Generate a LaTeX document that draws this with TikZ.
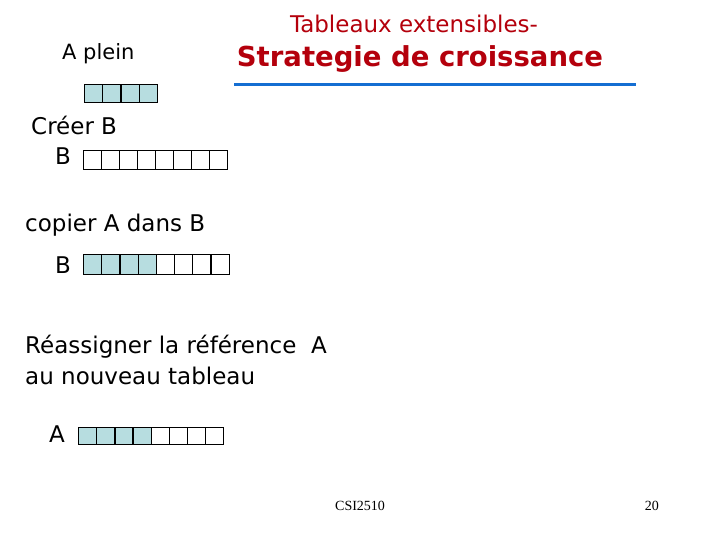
\documentclass[tikz,border=0pt]{standalone}
\usepackage{fontspec}
\newfontfamily\comic{DejaVu Sans}
\newfontfamily\comicbold{DejaVu Sans Bold}
\setmainfont{Liberation Serif}
\definecolor{titlered}{RGB}{180,0,12}
\definecolor{rule}{RGB}{20,110,210}
\definecolor{cellfill}{RGB}{183,221,224}
\tikzset{
  txt/.style={anchor=base west, inner sep=0pt, font=\comic\fontsize{23}{27}\selectfont},
  cell/.style={draw=black, line width=1.1pt, minimum width=18pt, minimum height=18pt, inner sep=0pt, anchor=north west},
  full/.style={cell, fill=cellfill},
  empty/.style={cell, fill=white},
}
\begin{document}
\begin{tikzpicture}[x=1pt,y=-1pt]
\useasboundingbox[fill=white] (0,0) rectangle (720,540);
% title
\node[anchor=base, inner sep=0pt, text=titlered, font=\comic\fontsize{23}{27}\selectfont] (t1) at (414,33) {Tableaux extensibles-};
\node[anchor=base, inner sep=0pt, text=titlered, font=\comicbold\fontsize{27.5}{32}\selectfont] (t2) at (420,67) {Strategie de croissance};
\draw[rule, line width=3pt] (234,84.3) -- (636,84.3);
% A plein
\node[txt, font=\comic\fontsize{21}{25}\selectfont] (aplein) at (62,60) {A plein};
\foreach \i in {0,...,3} \node[full, minimum width=18.2pt] (a\i) at (84+18.2*\i,84) {};
% Creer B
\node[txt] (creer) at (31,135) {Créer B};
\node[txt] (lb1) at (55,165) {B};
\foreach \i in {0,...,7} \node[empty, minimum height=19pt] (b\i) at (83+18*\i,150) {};
% copier
\node[txt] (copier) at (25,231) {copier A dans B};
\node[txt] (lb2) at (55,273) {B};
\foreach \i in {0,...,3} \node[full, minimum width=18.2pt, minimum height=20pt] (c\i) at (83+18.2*\i,254.3) {};
\foreach \i in {4,...,7} \node[empty, minimum width=18.2pt, minimum height=20pt] (c\i) at (83+18.2*\i,254.3) {};
% reassigner
\node[txt] (reass) at (25,353) {Réassigner la référence\ \ A};
\node[txt] (nouv) at (25,384) {au nouveau tableau};
\node[txt] (la) at (49,442) {A};
\foreach \i in {0,...,3} \node[full, minimum width=18.05pt, minimum height=17.6pt] (d\i) at (78.3+18.05*\i,426.7) {};
\foreach \i in {4,...,7} \node[empty, minimum width=18.05pt, minimum height=17.6pt] (d\i) at (78.3+18.05*\i,426.7) {};
% footer
\node[anchor=base west, inner sep=0pt, font=\fontsize{14}{16}\selectfont] (csi) at (335,510) {CSI2510};
\node[anchor=base east, inner sep=0pt, font=\fontsize{14}{16}\selectfont] (pg) at (659,510) {20};
\end{tikzpicture}
\end{document}
